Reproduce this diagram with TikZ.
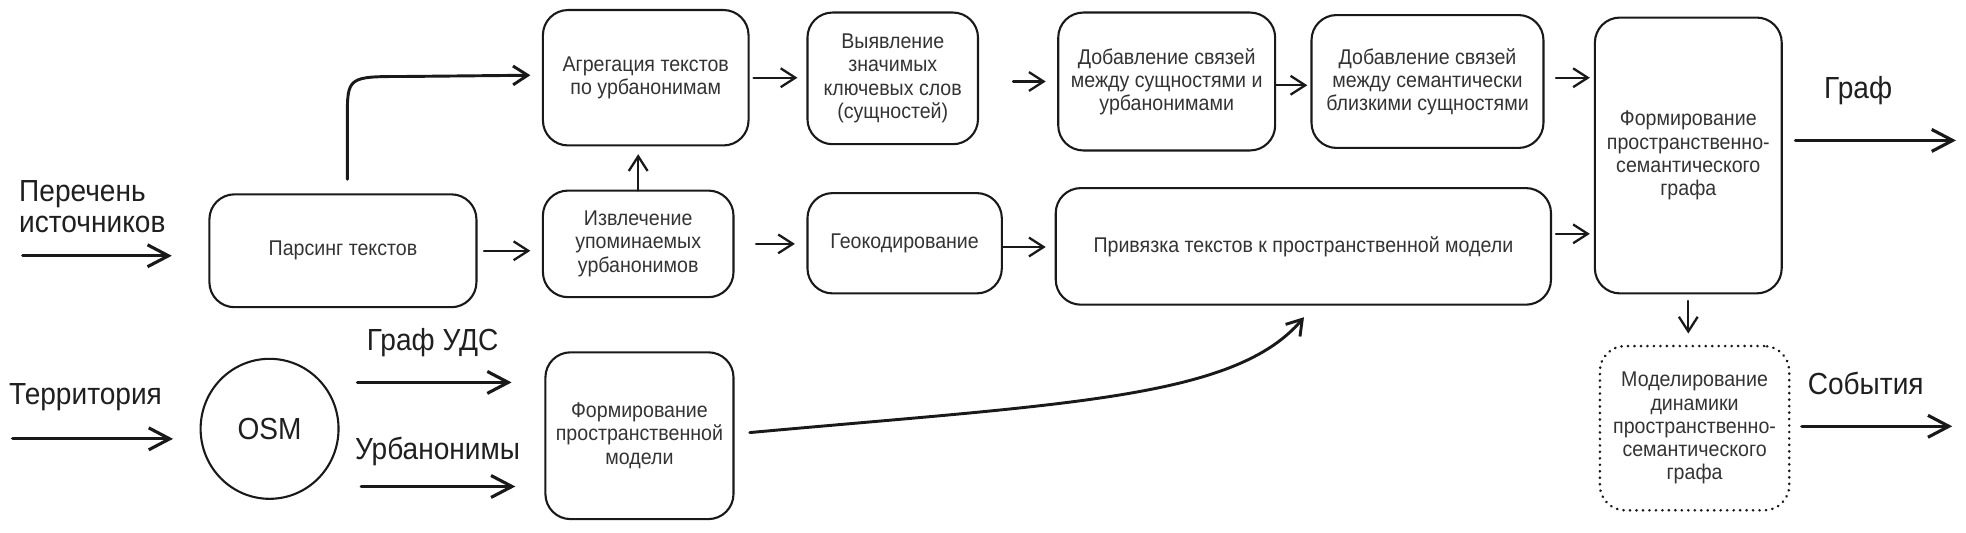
\documentclass[tikz,border=0pt]{standalone}
\usepackage{fontspec}
\setmainfont{Liberation Sans}[FakeStretch=0.92]
\usetikzlibrary{arrows.meta,calc,shapes.geometric}
\newcommand\myboxfont{\fontsize{10.2pt}{11.1pt}\selectfont}
\newcommand\mylabelfont{\fontsize{14.6pt}{15pt}\selectfont}
\begin{document}
\begin{tikzpicture}[x=0.6pt,y=-0.6pt,
  box/.style={draw=black!90, line width=1pt, rounded corners=12pt, inner sep=0pt, outer sep=0pt, align=center, font=\myboxfont, text=black!80},
  dotbox/.style={box, line cap=round, dash pattern=on 0.1pt off 3pt, line width=1.3pt},
  lbl/.style={font=\mylabelfont, text=black!88, inner sep=0pt, align=left},
  arr/.style={draw=black!90, line width=1.1pt, line cap=round, line join=round, -{Straight Barb[length=7pt,width=9pt]}},
  bigarr/.style={arr, line width=1.5pt, -{Straight Barb[length=10pt,width=10.5pt]}}]
\useasboundingbox (0,0) rectangle (1568,425);

% free ends
\coordinate (in1) at (18,204);
\coordinate (in2) at (10,350);
\coordinate (out1) at (1560,112);
\coordinate (out2) at (1557,340);

% boxes
\node[box, minimum width=127.8pt, minimum height=54pt] (parse) at (273.5,200) {Парсинг текстов};
\node[box, minimum width=91.2pt, minimum height=51pt] (extr) at (509,194.5) {Извлечение\\упоминаемых\\урбанонимов};
\node[box, minimum width=98.4pt, minimum height=64.8pt] (aggr) at (515,62) {Агрегация текстов\\по урбанонимам};
\node[box, minimum width=81.6pt, minimum height=63pt] (ident) at (712,62.5) {Выявление\\значимых\\ключевых слов\\(сущностей)};
\node[box, minimum width=103.8pt, minimum height=66pt] (links1) at (930.5,65) {Добавление связей\\между сущностями и\\урбанонимами};
\node[box, minimum width=111pt, minimum height=63.6pt] (links2) at (1138.5,65) {Добавление связей\\между семантически\\близкими сущностями};
\node[box, minimum width=89.4pt, minimum height=132pt] (form) at (1346.5,124) {Формирование\\пространственно-\\семантического\\графа};
\node[box, minimum width=93pt, minimum height=48pt] (geo) at (721.5,194) {Геокодирование};
\node[box, minimum width=237pt, minimum height=55.8pt] (bind) at (1039.5,196.5) {Привязка текстов к пространственной модели};
\node[dotbox, minimum width=90.6pt, minimum height=78.6pt] (model) at (1351.5,341.5) {Моделирование\\динамики\\пространственно-\\семантического\\графа};
\node[draw=black!90, line width=1pt, ellipse, minimum width=66pt, minimum height=67pt, inner sep=0pt, outer sep=0pt, font=\mylabelfont, text=black!88] (osm) at (215,342) {OSM};
\node[box, minimum width=90pt, minimum height=79.8pt] (spmodel) at (510,347.5) {Формирование\\пространственной\\модели};

% labels
\node[lbl, anchor=west] (lsrc) at (15,165) {Перечень\\источников};
\node[lbl, anchor=west] (lterr) at (7,317) {Территория};
\node[lbl] (ludc) at (345,273) {Граф УДС};
\node[lbl] (lurb) at (349,360) {Урбанонимы};
\node[lbl] (lgraph) at (1482,72) {Граф};
\node[lbl] (levents) at (1488,306) {События};

% connectors
\draw[bigarr, shorten >=18pt] (in1) -- (in1 -| parse.west);
\draw[arr, shorten <=3.6pt, shorten >=6pt] (parse.east) -- (parse.east -| extr.west);
\draw[arr, shorten >=4.2pt] (extr.north) -- (extr.north |- aggr.south);
\draw[arr, line width=1.4pt] ($(parse.north)+(3.5,-12)$) -- ($(parse.north)+(3.5,-60)$) .. controls ($(parse.north)+(3.5,-94)$) .. ($(aggr.west)+(-110,-1)$) -- ($(aggr.west)+(-10,-2)$);
\draw[arr, shorten <=2.4pt, shorten >=4.8pt] (aggr.east) -- (aggr.east -| ident.west);
\draw[arr, shorten <=16.8pt, shorten >=6pt] (ident.east |- links1.west) -- (links1.west);
\draw[arr, shorten <=0.6pt, shorten >=2pt] ($(links1.east)+(0,3)$) -- ($(links1.east -| links2.west)+(0,3)$);
\draw[arr, shorten <=6pt, shorten >=2.4pt] ($(links2.east)+(0,-3)$) -- ($(links2.east -| form.west)+(0,-3)$);
\draw[bigarr, shorten <=6.6pt] (form.east |- out1) -- (out1);
\draw[arr, shorten <=10.8pt, shorten >=6pt] (extr.east) -- (extr.east -| geo.west);
\draw[arr, shorten <=0.6pt, shorten >=4.8pt] ($(geo.east)+(0,3)$) -- ($(geo.east -| bind.west)+(0,3)$);
\draw[arr, shorten <=2.4pt, shorten >=2.4pt] ($(bind.east)+(0,-10)$) -- ($(bind.east -| form.west)+(0,-10)$);
\draw[arr, shorten <=3.6pt, shorten >=6pt] (form.south) -- (form.south |- model.north);
\draw[bigarr, shorten <=6pt] (model.east |- out2) -- (out2);
\draw[bigarr, shorten >=13.2pt] (in2) -- (in2 -| osm.west);
\draw[bigarr] ($(osm.east)+(15,-37)$) -- ($(spmodel.west)+(-27,-42.5)$);
\draw[bigarr] ($(osm.east)+(18,46)$) -- ($(spmodel.west)+(-24,40.5)$);
\draw[arr, line width=1.4pt] ($(spmodel.east)+(13,-2.5)$) .. controls ($(spmodel.east)+(265,-25.5)$) and ($(bind.south)+(-54.5,75)$) .. ($(bind.south)+(0.5,10)$);
\end{tikzpicture}
\end{document}
